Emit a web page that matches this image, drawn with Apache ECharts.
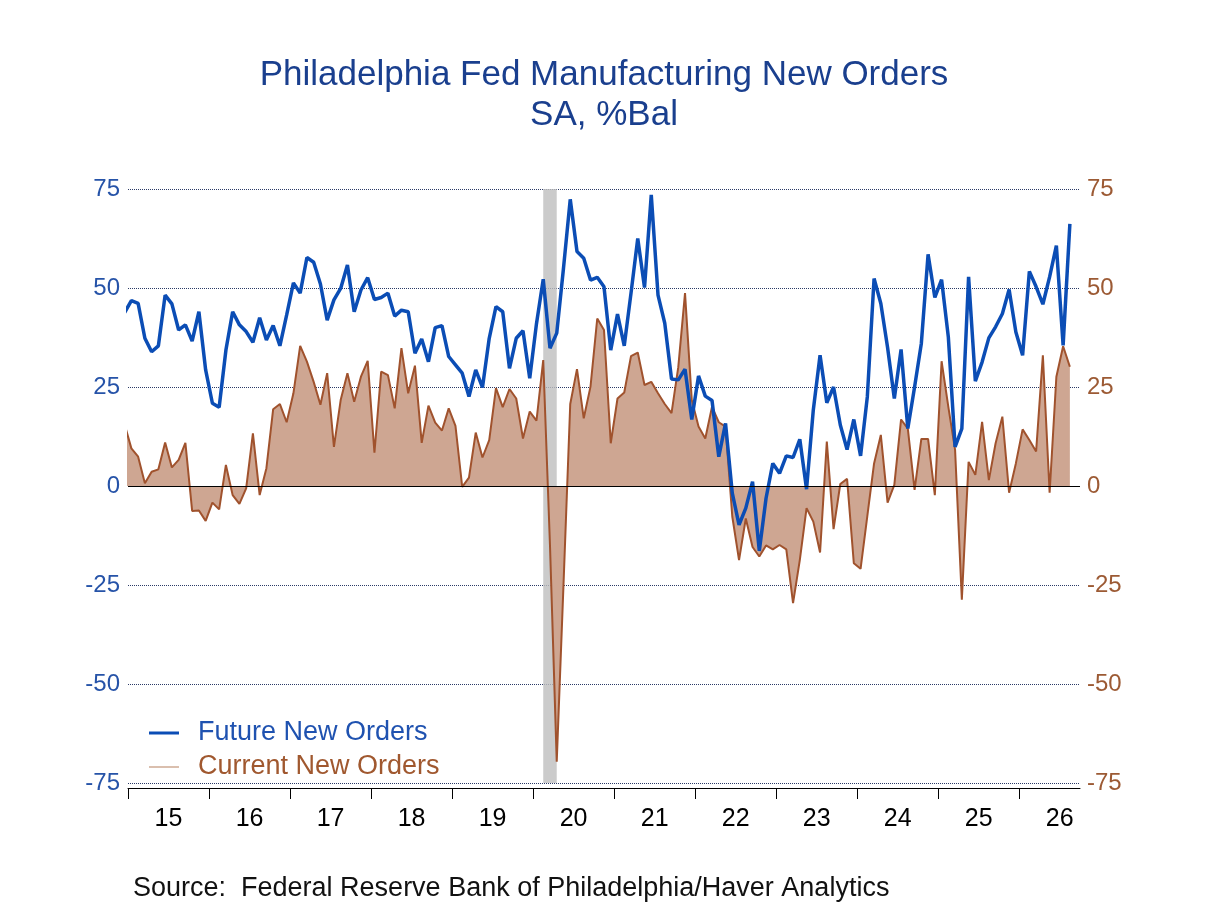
<!DOCTYPE html>
<html>
<head>
<meta charset="utf-8">
<script src="https://cdn.jsdelivr.net/npm/echarts@6/dist/echarts.min.js"></script>
<style>
html, body { margin: 0; padding: 0; background: #fff; }
#chart { width: 1208px; height: 906px; }
</style>
</head>
<body>
<div id="chart"></div>
<script>
// first month in the arrays (Dec 2014, clipped at the left edge of the axis)
var firstYear = 2014;
var firstMonth = 12;

var futureOrders = [
    43.8,
    46.8, 46.1, 37.3, 33.9, 35.4, 48.2, 46.0, 39.4, 40.7, 36.6, 44.0, 29.3,
    20.9, 19.9, 34.3, 44.0, 40.7, 39.0, 36.3, 42.5, 36.9, 40.5, 35.4, 43.2,
    51.3, 48.7, 57.7, 56.5, 51.0, 41.9, 47.0, 49.9, 55.8, 44.0, 49.5, 52.6,
    47.1, 47.6, 48.7, 42.9, 44.4, 44.0, 33.5, 37.1, 31.4, 40.0, 40.5, 32.7,
    30.6, 28.5, 22.6, 29.3, 24.9, 37.3, 45.3, 44.0, 29.7, 37.3, 39.2, 27.2,
    41.0, 52.2, 34.8, 38.6, 55.0, 72.4, 59.2, 57.5, 52.0, 52.7, 50.3, 34.3,
    43.4, 35.4, 48.7, 62.5, 50.1, 73.5, 48.2, 41.1, 27.0, 26.8, 29.5, 16.8,
    27.8, 22.7, 21.6, 7.4, 15.8, -1.8, -9.8, -5.6, 1.1, -16.4, -3.1, 5.7,
    3.2, 7.6, 7.2, 11.8, -0.8, 19.2, 33.0, 21.0, 25.0, 15.4, 9.2, 16.8,
    7.6, 22.5, 52.4, 46.1, 35.0, 22.1, 34.5, 14.5, 25.0, 36.0, 58.5, 47.6,
    52.1, 37.6, 9.9, 14.5, 52.8, 26.5, 31.3, 37.4, 40.2, 43.5, 49.6, 38.9,
    33.0, 54.2, 50.3, 45.9, 52.8, 60.7, 35.5, 66.2
];

var currentOrders = [
    15.5,
    9.5, 7.4, 0.7, 3.6, 4.2, 11.0, 4.7, 6.6, 10.9, -6.3, -6.2, -8.8,
    -4.2, -5.9, 5.3, -2.3, -4.5, -0.6, 13.3, -2.3, 4.5, 19.4, 20.7, 16.1,
    23.4, 35.4, 31.4, 26.3, 20.5, 28.5, 9.9, 21.7, 28.5, 21.3, 27.6, 31.6,
    8.4, 28.9, 28.0, 19.6, 34.8, 23.4, 30.4, 10.9, 20.3, 16.0, 14.0, 19.6,
    15.2, -0.2, 2.1, 13.5, 7.2, 11.6, 24.7, 19.9, 24.5, 22.1, 12.0, 18.8,
    16.5, 31.8, -15.0, -69.6, -25.0, 20.7, 29.5, 17.1, 25.1, 42.3, 39.4, 10.8,
    22.1, 23.6, 32.8, 33.7, 25.5, 26.3, 23.4, 20.7, 18.4, 30.0, 48.7, 21.7,
    15.0, 12.0, 20.0, 16.1, 15.0, -7.7, -18.7, -8.2, -15.4, -17.8, -15.0, -16.0,
    -14.9, -16.0, -29.6, -18.7, -5.6, -9.0, -16.8, 11.2, -10.9, 0.5, 1.8, -19.5,
    -20.9, -7.6, 5.7, 12.9, -4.2, 0.3, 16.8, 14.5, -1.0, 11.9, 11.9, -2.3,
    31.5, 20.0, 9.1, -28.7, 6.1, 2.8, 16.2, 1.5, 10.8, 17.5, -1.7, 5.7,
    14.3, 11.6, 8.7, 33.0, -1.7, 27.6, 35.3, 30.1
];

var yearLabels = ['15', '16', '17', '18', '19', '20', '21', '22', '23', '24', '25', '26'];
var recession = [[2020, 2], [2020, 4]];

// x is counted in months from Jan 2015, each point sits mid-month
function monthX(year, month) {
    return (year - 2015) * 12 + (month - 1) + 0.5;
}

function toPoints(values) {
    return values.map(function (v, i) {
        var m = firstMonth - 1 + i;
        var year = firstYear + Math.floor(m / 12);
        return [monthX(year, (m % 12) + 1), v];
    });
}

var yearTicks = yearLabels.map(function (l, i) { return i * 12; });
var yearCenters = yearLabels.map(function (l, i) { return i * 12 + 6; });

var dom = document.getElementById('chart');
var myChart = echarts.init(dom);
var font = 'Liberation Sans, Arial, sans-serif';

var option = {
    animation: false,
    backgroundColor: '#fff',
    textStyle: { fontFamily: font },
    title: [{
        text: 'Philadelphia Fed Manufacturing New Orders\nSA, %Bal',
        left: 'center',
        top: 50,
        textStyle: {
            fontFamily: font,
            fontSize: 35,
            fontWeight: 'normal',
            color: '#1a3f8e',
            lineHeight: 40
        }
    }, {
        text: 'Source:  Federal Reserve Bank of Philadelphia/Haver Analytics',
        left: 128,
        top: 869,
        textStyle: {
            fontFamily: font,
            fontSize: 27,
            fontWeight: 'normal',
            color: '#111',
            lineHeight: 30
        }
    }],
    legend: {
        orient: 'vertical',
        left: 144,
        top: 713,
        itemWidth: 30,
        itemHeight: 12,
        itemGap: 4,
        symbolKeepAspect: true,
        textStyle: { fontFamily: font, fontSize: 27, lineHeight: 30, padding: [0, 0, 0, 14] },
        data: [{
            name: 'Future New Orders',
            icon: 'path://M0,0H30V3H0Z',
            itemStyle: { color: '#0b4db5' },
            textStyle: { color: '#1f52b0' }
        }, {
            name: 'Current New Orders',
            icon: 'path://M0,0H30V1.4H0Z',
            itemStyle: { color: '#caa48c' },
            textStyle: { color: '#a0582f' }
        }]
    },
    grid: { left: 128, right: 128, top: 189, bottom: 123 },
    xAxis: {
        type: 'value',
        min: 0,
        max: 141,
        offset: 5,
        axisLine: { show: true, onZero: false, lineStyle: { color: '#000', width: 1 } },
        axisTick: { show: true, length: 11, customValues: yearTicks, lineStyle: { color: '#000', width: 1 } },
        axisLabel: {
            customValues: yearCenters,
            margin: 19,
            fontFamily: font,
            fontSize: 25,
            color: '#000',
            formatter: function (v) { return yearLabels[(v - 6) / 12]; }
        },
        splitLine: { show: false }
    },
    yAxis: [{
        type: 'value',
        min: -75,
        max: 75,
        interval: 25,
        axisLine: { show: false },
        axisTick: { show: false },
        axisLabel: { margin: 8, fontFamily: font, fontSize: 24, color: '#2653a8' },
        splitLine: { show: true, lineStyle: { type: 'dotted', color: '#2b3a66', width: 1 } }
    }, {
        type: 'value',
        position: 'right',
        min: -75,
        max: 75,
        interval: 25,
        axisLine: { show: false },
        axisTick: { show: false },
        axisLabel: { margin: 7, fontFamily: font, fontSize: 24, color: '#9c5a34' },
        splitLine: { show: false }
    }],
    series: [{
        name: 'Current New Orders',
        type: 'line',
        data: toPoints(currentOrders),
        showSymbol: false,
        symbol: 'none',
        clip: true,
        lineStyle: { color: '#a0522d', width: 2 },
        itemStyle: { color: '#a0522d' },
        areaStyle: { color: '#cea692', opacity: 1 },
        z: 2,
        markArea: {
            silent: true,
            itemStyle: { color: 'rgba(190,190,190,0.8)' },
            data: [[
                { xAxis: monthX(recession[0][0], recession[0][1]) },
                { xAxis: monthX(recession[1][0], recession[1][1]) }
            ]]
        },
        markLine: {
            silent: true,
            symbol: 'none',
            label: { show: false },
            lineStyle: { color: '#000', type: 'solid', width: 1 },
            data: [{ yAxis: 0 }]
        }
    }, {
        name: 'Future New Orders',
        type: 'line',
        data: toPoints(futureOrders),
        showSymbol: false,
        symbol: 'none',
        clip: true,
        lineStyle: { color: '#0b4db5', width: 3.5 },
        itemStyle: { color: '#0b4db5' },
        z: 3
    }]
};

myChart.setOption(option);
</script>
</body>
</html>
